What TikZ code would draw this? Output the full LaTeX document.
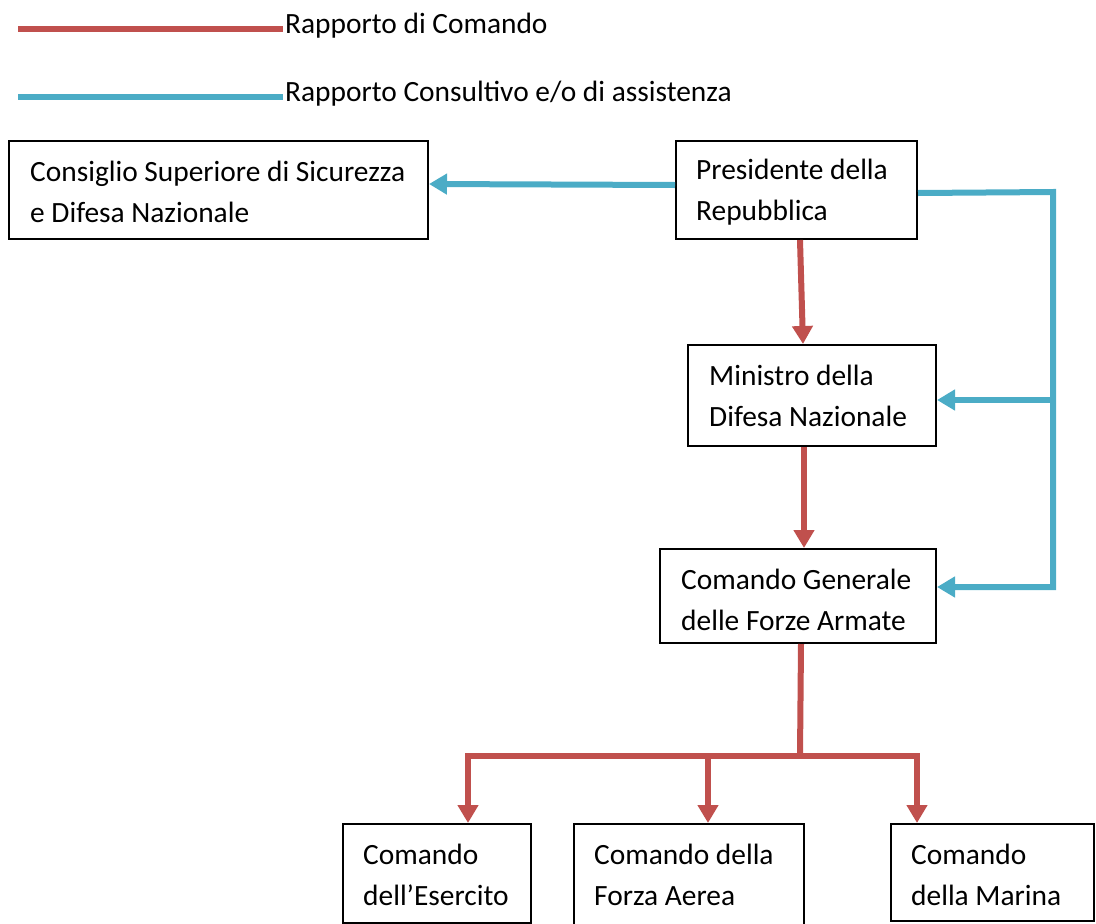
\documentclass[tikz,border=0pt]{standalone}
\usepackage{fontspec}
\setmainfont{Carlito}
\usetikzlibrary{arrows.meta,calc}
\definecolor{cmdred}{HTML}{C0504D}
\definecolor{advblue}{HTML}{4BACC6}
\begin{document}
\begin{tikzpicture}[x=1pt,y=-1pt,
  box/.style={draw=black,line width=2pt,rectangle,inner sep=0pt,anchor=north west},
  txt/.style={anchor=west,align=left,inner sep=0pt,font=\fontsize{29.4}{41}\selectfont},
  legred/.style={draw=cmdred,line width=6pt},
  legblue/.style={draw=advblue,line width=6pt},
  cmdline/.style={draw=cmdred,line width=6pt},
  cmd/.style={draw=cmdred,line width=6pt,-{Triangle[width=20pt,length=18pt]}},
  adv/.style={draw=advblue,line width=6pt,-{Triangle[width=20pt,length=18pt]}},
]
\useasboundingbox (0,0) rectangle (1096,924);
\clip (0,0) rectangle (1096,924);

% legend
\coordinate (l1a) at (18,29);
\coordinate (l1b) at (283,29);
\coordinate (l2a) at (18,97);
\coordinate (l2b) at (283,97);
\draw[legred] (l1a) -- (l1b);
\draw[legblue] (l2a) -- (l2b);
\node[txt] (leg1) at (285,26) {Rapporto di Comando};
\node[txt] (leg2) at (285,94) {Rapporto Consultivo e/o di assistenza};

% boxes
\node[box,minimum width=419pt,minimum height=98pt] (csd) at (8,140) {};
\node[txt] (csd-t) at ($(csd.north west)+(22,52)$) {Consiglio Superiore di Sicurezza\\e Difesa Nazionale};

\node[box,minimum width=241pt,minimum height=98pt] (pres) at (675,140) {};
\node[txt] (pres-t) at ($(pres.north west)+(21,52)$) {Presidente della\\Repubblica};

\node[box,minimum width=248pt,minimum height=101pt] (min) at (687,344) {};
\node[txt] (min-t) at ($(min.north west)+(22,52)$) {Ministro della\\Difesa Nazionale};

\node[box,minimum width=276pt,minimum height=94pt] (cg) at (659,548) {};
\node[txt] (cg-t) at ($(cg.north west)+(22,52)$) {Comando Generale\\delle Forze Armate};

\node[box,minimum width=188pt,minimum height=99pt] (ese) at (342,823) {};
\node[txt] (ese-t) at ($(ese.north west)+(21,52)$) {Comando\\dell’Esercito};

\node[box,minimum width=230pt,minimum height=120pt] (fa) at (573,823) {};
\node[txt] (fa-t) at ($(fa.north west)+(21,52)$) {Comando della\\Forza Aerea};

\node[box,minimum width=203pt,minimum height=97pt] (mar) at (890,823) {};
\node[txt] (mar-t) at ($(mar.north west)+(21,52)$) {Comando\\della Marina};

% command relations
\draw[cmd] ([xshift=3.5pt]pres.south) -- ([xshift=-9pt]min.north);
\draw[cmd] ([xshift=-8pt]min.south) -- ([xshift=6pt]cg.north);
\coordinate (jn) at (800,756);
\draw[cmdline] ([xshift=3pt]cg.south) -- (jn);
\draw[cmd] (jn) -| ([xshift=31pt]ese.north);
\draw[cmd] (jn) -| ([xshift=19pt]fa.north);
\draw[cmd] (jn) -| ([xshift=-75.5pt]mar.north);

% advisory relations
\draw[adv] ([yshift=5pt]pres.west) -- ([yshift=6pt]csd.east);
\coordinate (bt) at (1053,192);
\coordinate (bm) at (1053,400);
\coordinate (bb) at (1053,587);
\draw[adv] ([yshift=-3pt]pres.east) -- (bt) -- (bb) -- (cg.east |- bb);
\draw[adv] (bm) -- (min.east |- bm);
\end{tikzpicture}
\end{document}
